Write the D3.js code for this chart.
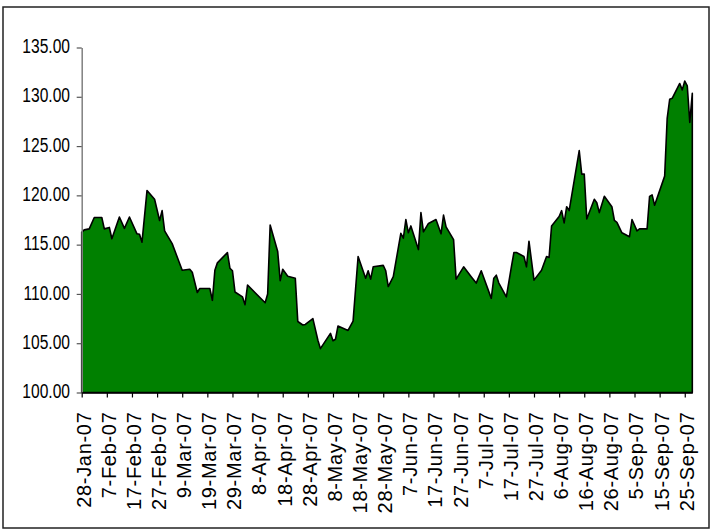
<!DOCTYPE html>
<html>
<head>
<meta charset="utf-8">
<script src="https://cdn.jsdelivr.net/npm/d3@7"></script>
<style>
  html, body { margin: 0; padding: 0; background: #fff; }
  svg { display: block; }
  text { font-family: "Liberation Sans", Arial, sans-serif; }
</style>
</head>
<body>
<svg id="chart" width="713" height="531"></svg>
<script>
// ---- data ----
const dates = [
  "2007-01-28","2007-01-29","2007-01-31","2007-02-02","2007-02-05","2007-02-06","2007-02-08","2007-02-09",
  "2007-02-12","2007-02-14","2007-02-16","2007-02-19","2007-02-20","2007-02-21","2007-02-23","2007-02-26",
  "2007-02-28","2007-03-01","2007-03-02","2007-03-05","2007-03-09","2007-03-12","2007-03-13","2007-03-15",
  "2007-03-16","2007-03-20","2007-03-21","2007-03-22","2007-03-23","2007-03-27","2007-03-28","2007-03-29",
  "2007-03-30","2007-04-02","2007-04-03","2007-04-04","2007-04-11","2007-04-12","2007-04-13","2007-04-16",
  "2007-04-17","2007-04-18","2007-04-20","2007-04-23","2007-04-24","2007-04-26","2007-04-27","2007-04-30",
  "2007-05-02","2007-05-03","2007-05-07","2007-05-08","2007-05-09","2007-05-10","2007-05-14","2007-05-16",
  "2007-05-18","2007-05-21","2007-05-22","2007-05-23","2007-05-24","2007-05-28","2007-05-29","2007-05-30",
  "2007-06-01","2007-06-04","2007-06-05","2007-06-06","2007-06-07","2007-06-08","2007-06-11","2007-06-12",
  "2007-06-13","2007-06-15","2007-06-18","2007-06-20","2007-06-21","2007-06-22","2007-06-25","2007-06-26",
  "2007-06-29","2007-07-02","2007-07-04","2007-07-06","2007-07-10","2007-07-11","2007-07-12","2007-07-13",
  "2007-07-16","2007-07-18","2007-07-19","2007-07-20","2007-07-23","2007-07-24","2007-07-25","2007-07-27",
  "2007-07-30","2007-08-01","2007-08-02","2007-08-03","2007-08-06","2007-08-07","2007-08-08","2007-08-09",
  "2007-08-10","2007-08-14","2007-08-15","2007-08-16","2007-08-17","2007-08-20","2007-08-21","2007-08-22",
  "2007-08-24","2007-08-27","2007-08-28","2007-08-29","2007-08-31","2007-09-03","2007-09-04","2007-09-06",
  "2007-09-07","2007-09-10","2007-09-11","2007-09-12","2007-09-13","2007-09-17","2007-09-18","2007-09-19",
  "2007-09-20","2007-09-23","2007-09-24","2007-09-25","2007-09-26","2007-09-27","2007-09-28"
];
const values = [
  116.25,116.5,116.6,117.75,117.75,116.6,116.75,115.6,
  117.8,116.65,117.8,116.1,116.05,115.25,120.5,119.6,
  117.45,118.45,116.4,115.1,112.4,112.5,112.2,110.15,
  110.55,110.55,109.35,112.4,113.15,114.2,112.6,112.35,
  110.2,109.7,108.9,110.9,109.1,110.0,117.0,114.3,
  111.35,112.5,111.8,111.6,107.2,106.85,106.9,107.5,
  105.3,104.45,106.0,105.25,105.4,106.75,106.3,107.25,
  113.8,111.6,112.35,111.5,112.75,112.9,112.35,110.75,
  111.75,116.15,115.65,117.55,116.2,116.9,114.5,118.25,
  116.3,117.15,117.55,116.1,118.0,116.8,115.5,111.5,
  112.75,111.75,111.1,112.35,109.55,111.6,111.9,111.1,
  109.7,112.75,114.2,114.2,113.8,112.75,115.35,111.4,
  112.4,113.8,113.7,116.9,117.85,118.45,117.2,118.85,
  118.45,124.55,122.15,122.15,117.6,119.6,119.25,118.25,
  119.9,118.85,117.45,117.25,116.2,115.8,117.55,116.4,
  116.6,116.6,119.9,120.05,119.0,121.95,127.8,129.75,
  129.85,131.35,130.7,131.6,131.1,127.4,130.35
];
const xTickLabels = [
  "28-Jan-07","7-Feb-07","17-Feb-07","27-Feb-07","9-Mar-07","19-Mar-07","29-Mar-07",
  "8-Apr-07","18-Apr-07","28-Apr-07","8-May-07","18-May-07","28-May-07","7-Jun-07",
  "17-Jun-07","27-Jun-07","7-Jul-07","17-Jul-07","27-Jul-07","6-Aug-07","16-Aug-07",
  "26-Aug-07","5-Sep-07","15-Sep-07","25-Sep-07"
];
const yTicks = [100, 105, 110, 115, 120, 125, 130, 135];
const xDomain = ["2007-01-28", "2007-09-28"];

// ---- build ----
const parseISO = d3.timeParse("%Y-%m-%d");
const parseTick = d3.timeParse("%d-%b-%y");
const data = dates.map((d, i) => ({ date: parseISO(d), value: values[i] }));
const tickDates = xTickLabels.map(parseTick);

const svg = d3.select("#chart");

// outer frame
svg.append("rect")
  .attr("x", 3).attr("y", 7).attr("width", 706).attr("height", 521)
  .attr("fill", "none").attr("stroke", "#222").attr("stroke-width", 1.5);

const x = d3.scaleTime().domain(xDomain.map(parseISO)).range([81.7, 692.3]);
const y = d3.scaleLinear().domain([100, 135]).range([392.5, 47.5]);

const area = d3.area()
  .x(d => x(d.date))
  .y0(y(100))
  .y1(d => y(d.value));

svg.append("path")
  .datum(data)
  .attr("d", area)
  .attr("fill", "#008000")
  .attr("stroke", "#000")
  .attr("stroke-width", 1.6)
  .attr("stroke-linejoin", "round");

// y axis
const yAxis = svg.append("g")
  .attr("transform", `translate(${x.range()[0]},0)`)
  .call(d3.axisLeft(y).tickValues(yTicks).tickSize(5).tickSizeOuter(0)
    .tickFormat(d3.format(".2f")));
yAxis.select(".domain").attr("stroke", "#808080").attr("stroke-width", 1.5);
yAxis.selectAll(".tick line").attr("stroke", "#555").attr("stroke-width", 1.2);
yAxis.selectAll(".tick text")
  .attr("x", 0)
  .attr("dy", "0.26em")
  .attr("transform", "translate(-11.7,0) scale(0.8,1)")
  .attr("font-size", 19.5)
  .attr("fill", "#000")
  .attr("font-family", "'Liberation Sans', Arial, sans-serif");

// x axis
const xAxis = svg.append("g")
  .attr("transform", `translate(0,${y(100)})`)
  .call(d3.axisBottom(x).tickValues(tickDates).tickSize(5).tickSizeOuter(0)
    .tickFormat((d, i) => xTickLabels[i]));
xAxis.select(".domain").attr("stroke", "#000").attr("stroke-width", 1.5);
xAxis.selectAll(".tick line").attr("stroke", "#000").attr("stroke-width", 1.2);
xAxis.selectAll(".tick text")
  .attr("transform", "rotate(-90)")
  .attr("text-anchor", "end")
  .attr("x", -19)
  .attr("y", 0)
  .attr("dy", "0.42em")
  .attr("font-size", 20)
  .attr("letter-spacing", "0.7px")
  .attr("fill", "#000")
  .attr("font-family", "'Liberation Sans', Arial, sans-serif");
</script>
</body>
</html>
